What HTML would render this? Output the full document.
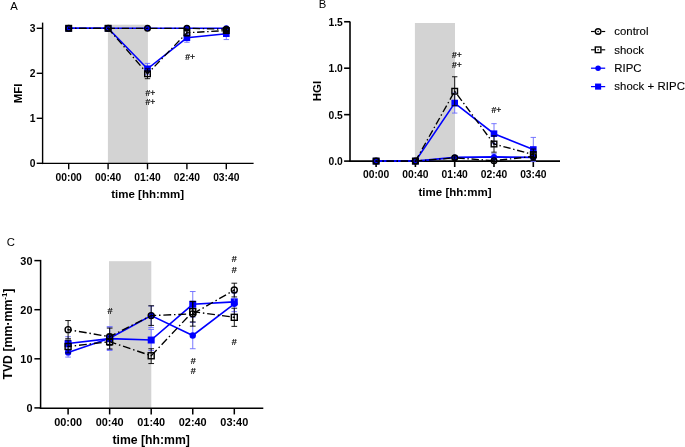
<!DOCTYPE html>
<html><head><meta charset="utf-8"><title>Figure</title>
<style>html,body{margin:0;padding:0;background:#fff}body{width:685px;height:447px;overflow:hidden}</style>
</head><body>
<svg width="685" height="447" viewBox="0 0 685 447" style="display:block;font-family:'Liberation Sans', Arial, sans-serif">
<rect width="685" height="447" fill="#fff"/>
<rect x="107.90" y="24.70" width="40.00" height="138.70" fill="#d3d3d3"/>
<line x1="42.60" y1="22.60" x2="42.60" y2="164.10" stroke="#000000" stroke-width="1.4" />
<line x1="41.90" y1="163.40" x2="253.60" y2="163.40" stroke="#000000" stroke-width="1.4" />
<line x1="36.70" y1="163.30" x2="42.60" y2="163.30" stroke="#000000" stroke-width="1.4" />
<text x="35.40" y="167.27" font-size="10.3" font-weight="bold" text-anchor="end" fill="#000000" >0</text>
<line x1="36.70" y1="118.30" x2="42.60" y2="118.30" stroke="#000000" stroke-width="1.4" />
<text x="35.40" y="122.27" font-size="10.3" font-weight="bold" text-anchor="end" fill="#000000" >1</text>
<line x1="36.70" y1="73.30" x2="42.60" y2="73.30" stroke="#000000" stroke-width="1.4" />
<text x="35.40" y="77.27" font-size="10.3" font-weight="bold" text-anchor="end" fill="#000000" >2</text>
<line x1="36.70" y1="28.30" x2="42.60" y2="28.30" stroke="#000000" stroke-width="1.4" />
<text x="35.40" y="32.27" font-size="10.3" font-weight="bold" text-anchor="end" fill="#000000" >3</text>
<line x1="68.70" y1="163.40" x2="68.70" y2="169.30" stroke="#000000" stroke-width="1.4" />
<text x="68.70" y="180.60" font-size="10.3" font-weight="bold" text-anchor="middle" fill="#000000" >00:00</text>
<line x1="108.10" y1="163.40" x2="108.10" y2="169.30" stroke="#000000" stroke-width="1.4" />
<text x="108.10" y="180.60" font-size="10.3" font-weight="bold" text-anchor="middle" fill="#000000" >00:40</text>
<line x1="147.50" y1="163.40" x2="147.50" y2="169.30" stroke="#000000" stroke-width="1.4" />
<text x="147.50" y="180.60" font-size="10.3" font-weight="bold" text-anchor="middle" fill="#000000" >01:40</text>
<line x1="186.90" y1="163.40" x2="186.90" y2="169.30" stroke="#000000" stroke-width="1.4" />
<text x="186.90" y="180.60" font-size="10.3" font-weight="bold" text-anchor="middle" fill="#000000" >02:40</text>
<line x1="226.30" y1="163.40" x2="226.30" y2="169.30" stroke="#000000" stroke-width="1.4" />
<text x="226.30" y="180.60" font-size="10.3" font-weight="bold" text-anchor="middle" fill="#000000" >03:40</text>
<line x1="147.50" y1="63.40" x2="147.50" y2="74.20" stroke="#6a6aff" stroke-width="0.9" />
<line x1="144.80" y1="63.40" x2="150.20" y2="63.40" stroke="#6a6aff" stroke-width="0.9" />
<line x1="144.80" y1="74.20" x2="150.20" y2="74.20" stroke="#6a6aff" stroke-width="0.9" />
<line x1="186.90" y1="33.25" x2="186.90" y2="42.25" stroke="#6a6aff" stroke-width="0.9" />
<line x1="184.20" y1="33.25" x2="189.60" y2="33.25" stroke="#6a6aff" stroke-width="0.9" />
<line x1="184.20" y1="42.25" x2="189.60" y2="42.25" stroke="#6a6aff" stroke-width="0.9" />
<line x1="226.30" y1="27.85" x2="226.30" y2="39.55" stroke="#6a6aff" stroke-width="0.9" />
<line x1="223.60" y1="27.85" x2="229.00" y2="27.85" stroke="#6a6aff" stroke-width="0.9" />
<line x1="223.60" y1="39.55" x2="229.00" y2="39.55" stroke="#6a6aff" stroke-width="0.9" />
<polyline points="68.70,28.30 108.10,28.30 147.50,68.80 186.90,37.75 226.30,33.70" fill="none" stroke="#0000ff" stroke-width="1.6" />
<rect x="65.40" y="25.00" width="6.60" height="6.60" fill="#0000ff"/>
<rect x="104.80" y="25.00" width="6.60" height="6.60" fill="#0000ff"/>
<rect x="144.20" y="65.50" width="6.60" height="6.60" fill="#0000ff"/>
<rect x="183.60" y="34.45" width="6.60" height="6.60" fill="#0000ff"/>
<rect x="223.00" y="30.40" width="6.60" height="6.60" fill="#0000ff"/>
<polyline points="68.70,28.30 108.10,28.30 147.50,28.30 186.90,28.30 226.30,28.30" fill="none" stroke="#0000ff" stroke-width="1.6" />
<circle cx="68.70" cy="28.30" r="3.00" fill="#0000ff"/>
<circle cx="108.10" cy="28.30" r="3.00" fill="#0000ff"/>
<circle cx="147.50" cy="28.30" r="3.00" fill="#0000ff"/>
<circle cx="186.90" cy="28.30" r="3.00" fill="#0000ff"/>
<circle cx="226.30" cy="28.30" r="3.00" fill="#0000ff"/>
<line x1="147.50" y1="68.80" x2="147.50" y2="78.70" stroke="#000000" stroke-width="0.9" />
<line x1="144.80" y1="68.80" x2="150.20" y2="68.80" stroke="#000000" stroke-width="0.9" />
<line x1="144.80" y1="78.70" x2="150.20" y2="78.70" stroke="#000000" stroke-width="0.9" />
<line x1="186.90" y1="29.65" x2="186.90" y2="35.95" stroke="#000000" stroke-width="0.9" />
<line x1="184.20" y1="29.65" x2="189.60" y2="29.65" stroke="#000000" stroke-width="0.9" />
<line x1="184.20" y1="35.95" x2="189.60" y2="35.95" stroke="#000000" stroke-width="0.9" />
<line x1="226.30" y1="28.75" x2="226.30" y2="32.35" stroke="#000000" stroke-width="0.9" />
<line x1="223.60" y1="28.75" x2="229.00" y2="28.75" stroke="#000000" stroke-width="0.9" />
<line x1="223.60" y1="32.35" x2="229.00" y2="32.35" stroke="#000000" stroke-width="0.9" />
<polyline points="68.70,28.30 108.10,28.30 147.50,73.75 186.90,32.80 226.30,30.55" fill="none" stroke="#000000" stroke-width="1.35" stroke-dasharray="7.40 2.70 1.40 2.70" stroke-dashoffset="3.80"/>
<rect x="65.90" y="25.50" width="5.60" height="5.60" fill="none" stroke="#000000" stroke-width="1.4"/>
<circle cx="68.70" cy="28.30" r="0.8" fill="#000000"/>
<rect x="105.30" y="25.50" width="5.60" height="5.60" fill="none" stroke="#000000" stroke-width="1.4"/>
<circle cx="108.10" cy="28.30" r="0.8" fill="#000000"/>
<rect x="144.70" y="70.95" width="5.60" height="5.60" fill="none" stroke="#000000" stroke-width="1.4"/>
<circle cx="147.50" cy="73.75" r="0.8" fill="#000000"/>
<rect x="184.10" y="30.00" width="5.60" height="5.60" fill="none" stroke="#000000" stroke-width="1.4"/>
<circle cx="186.90" cy="32.80" r="0.8" fill="#000000"/>
<rect x="223.50" y="27.75" width="5.60" height="5.60" fill="none" stroke="#000000" stroke-width="1.4"/>
<circle cx="226.30" cy="30.55" r="0.8" fill="#000000"/>
<line x1="226.30" y1="27.85" x2="226.30" y2="30.55" stroke="#000000" stroke-width="0.9" />
<line x1="223.60" y1="27.85" x2="229.00" y2="27.85" stroke="#000000" stroke-width="0.9" />
<line x1="223.60" y1="30.55" x2="229.00" y2="30.55" stroke="#000000" stroke-width="0.9" />
<polyline points="68.70,28.30 108.10,28.30 147.50,28.30 186.90,28.30 226.30,29.20" fill="none" stroke="#000000" stroke-width="1.35" stroke-dasharray="7.40 2.70 1.40 2.70" stroke-dashoffset="3.80"/>
<circle cx="68.70" cy="28.30" r="2.80" fill="none" stroke="#000000" stroke-width="1.4"/>
<circle cx="68.70" cy="28.30" r="0.8" fill="#000000"/>
<circle cx="108.10" cy="28.30" r="2.80" fill="none" stroke="#000000" stroke-width="1.4"/>
<circle cx="108.10" cy="28.30" r="0.8" fill="#000000"/>
<circle cx="147.50" cy="28.30" r="2.80" fill="none" stroke="#000000" stroke-width="1.4"/>
<circle cx="147.50" cy="28.30" r="0.8" fill="#000000"/>
<circle cx="186.90" cy="28.30" r="2.80" fill="none" stroke="#000000" stroke-width="1.4"/>
<circle cx="186.90" cy="28.30" r="0.8" fill="#000000"/>
<circle cx="226.30" cy="29.20" r="2.80" fill="none" stroke="#000000" stroke-width="1.4"/>
<circle cx="226.30" cy="29.20" r="0.8" fill="#000000"/>
<text x="10.30" y="10.00" font-size="11.3" font-weight="normal" text-anchor="start" fill="#000000" >A</text>
<text x="22.30" y="93.40" font-size="11.5" font-weight="bold" text-anchor="middle" fill="#000000" transform="rotate(-90 22.3 93.4)">MFI</text>
<text x="147.70" y="197.60" font-size="11.5" font-weight="bold" text-anchor="middle" fill="#000000" textLength="73" lengthAdjust="spacingAndGlyphs">time [hh:mm]</text>
<text x="145.40" y="95.50" font-size="8.6" font-weight="normal" text-anchor="start" fill="#000000" stroke="#000" stroke-width="0.2">#+</text>
<text x="145.40" y="105.10" font-size="8.6" font-weight="normal" text-anchor="start" fill="#000000" stroke="#000" stroke-width="0.2">#+</text>
<text x="185.30" y="59.60" font-size="8.6" font-weight="normal" text-anchor="start" fill="#000000" stroke="#000" stroke-width="0.2">#+</text>
<rect x="414.90" y="23.00" width="40.10" height="138.10" fill="#d3d3d3"/>
<line x1="350.00" y1="21.40" x2="350.00" y2="161.90" stroke="#000000" stroke-width="1.6" />
<line x1="349.20" y1="161.10" x2="560.00" y2="161.10" stroke="#000000" stroke-width="1.6" />
<line x1="344.10" y1="161.10" x2="350.00" y2="161.10" stroke="#000000" stroke-width="1.6" />
<text x="342.80" y="165.07" font-size="10.3" font-weight="bold" text-anchor="end" fill="#000000" >0.0</text>
<line x1="344.10" y1="114.65" x2="350.00" y2="114.65" stroke="#000000" stroke-width="1.6" />
<text x="342.80" y="118.62" font-size="10.3" font-weight="bold" text-anchor="end" fill="#000000" >0.5</text>
<line x1="344.10" y1="68.20" x2="350.00" y2="68.20" stroke="#000000" stroke-width="1.6" />
<text x="342.80" y="72.17" font-size="10.3" font-weight="bold" text-anchor="end" fill="#000000" >1.0</text>
<line x1="344.10" y1="21.75" x2="350.00" y2="21.75" stroke="#000000" stroke-width="1.6" />
<text x="342.80" y="25.72" font-size="10.3" font-weight="bold" text-anchor="end" fill="#000000" >1.5</text>
<line x1="376.10" y1="161.10" x2="376.10" y2="167.00" stroke="#000000" stroke-width="1.6" />
<text x="376.10" y="178.30" font-size="10.3" font-weight="bold" text-anchor="middle" fill="#000000" >00:00</text>
<line x1="415.40" y1="161.10" x2="415.40" y2="167.00" stroke="#000000" stroke-width="1.6" />
<text x="415.40" y="178.30" font-size="10.3" font-weight="bold" text-anchor="middle" fill="#000000" >00:40</text>
<line x1="454.70" y1="161.10" x2="454.70" y2="167.00" stroke="#000000" stroke-width="1.6" />
<text x="454.70" y="178.30" font-size="10.3" font-weight="bold" text-anchor="middle" fill="#000000" >01:40</text>
<line x1="494.00" y1="161.10" x2="494.00" y2="167.00" stroke="#000000" stroke-width="1.6" />
<text x="494.00" y="178.30" font-size="10.3" font-weight="bold" text-anchor="middle" fill="#000000" >02:40</text>
<line x1="533.30" y1="161.10" x2="533.30" y2="167.00" stroke="#000000" stroke-width="1.6" />
<text x="533.30" y="178.30" font-size="10.3" font-weight="bold" text-anchor="middle" fill="#000000" >03:40</text>
<line x1="454.70" y1="93.00" x2="454.70" y2="113.07" stroke="#6a6aff" stroke-width="0.9" />
<line x1="452.00" y1="93.00" x2="457.40" y2="93.00" stroke="#6a6aff" stroke-width="0.9" />
<line x1="452.00" y1="113.07" x2="457.40" y2="113.07" stroke="#6a6aff" stroke-width="0.9" />
<line x1="494.00" y1="123.66" x2="494.00" y2="143.73" stroke="#6a6aff" stroke-width="0.9" />
<line x1="491.30" y1="123.66" x2="496.70" y2="123.66" stroke="#6a6aff" stroke-width="0.9" />
<line x1="491.30" y1="143.73" x2="496.70" y2="143.73" stroke="#6a6aff" stroke-width="0.9" />
<line x1="533.30" y1="137.41" x2="533.30" y2="161.56" stroke="#6a6aff" stroke-width="0.9" />
<line x1="530.60" y1="137.41" x2="536.00" y2="137.41" stroke="#6a6aff" stroke-width="0.9" />
<line x1="530.60" y1="161.56" x2="536.00" y2="161.56" stroke="#6a6aff" stroke-width="0.9" />
<polyline points="376.10,161.10 415.40,161.10 454.70,103.04 494.00,133.69 533.30,149.49" fill="none" stroke="#0000ff" stroke-width="1.6" />
<rect x="372.80" y="157.80" width="6.60" height="6.60" fill="#0000ff"/>
<rect x="412.10" y="157.80" width="6.60" height="6.60" fill="#0000ff"/>
<rect x="451.40" y="99.74" width="6.60" height="6.60" fill="#0000ff"/>
<rect x="490.70" y="130.39" width="6.60" height="6.60" fill="#0000ff"/>
<rect x="530.00" y="146.19" width="6.60" height="6.60" fill="#0000ff"/>
<line x1="454.70" y1="155.53" x2="454.70" y2="159.24" stroke="#6a6aff" stroke-width="0.9" />
<line x1="452.00" y1="155.53" x2="457.40" y2="155.53" stroke="#6a6aff" stroke-width="0.9" />
<line x1="452.00" y1="159.24" x2="457.40" y2="159.24" stroke="#6a6aff" stroke-width="0.9" />
<line x1="494.00" y1="153.67" x2="494.00" y2="160.17" stroke="#6a6aff" stroke-width="0.9" />
<line x1="491.30" y1="153.67" x2="496.70" y2="153.67" stroke="#6a6aff" stroke-width="0.9" />
<line x1="491.30" y1="160.17" x2="496.70" y2="160.17" stroke="#6a6aff" stroke-width="0.9" />
<line x1="533.30" y1="154.60" x2="533.30" y2="160.17" stroke="#6a6aff" stroke-width="0.9" />
<line x1="530.60" y1="154.60" x2="536.00" y2="154.60" stroke="#6a6aff" stroke-width="0.9" />
<line x1="530.60" y1="160.17" x2="536.00" y2="160.17" stroke="#6a6aff" stroke-width="0.9" />
<polyline points="376.10,161.10 415.40,161.10 454.70,157.38 494.00,156.92 533.30,157.38" fill="none" stroke="#0000ff" stroke-width="1.6" />
<circle cx="376.10" cy="161.10" r="3.00" fill="#0000ff"/>
<circle cx="415.40" cy="161.10" r="3.00" fill="#0000ff"/>
<circle cx="454.70" cy="157.38" r="3.00" fill="#0000ff"/>
<circle cx="494.00" cy="156.92" r="3.00" fill="#0000ff"/>
<circle cx="533.30" cy="157.38" r="3.00" fill="#0000ff"/>
<line x1="454.70" y1="76.75" x2="454.70" y2="105.73" stroke="#000000" stroke-width="0.9" />
<line x1="452.00" y1="76.75" x2="457.40" y2="76.75" stroke="#000000" stroke-width="0.9" />
<line x1="452.00" y1="105.73" x2="457.40" y2="105.73" stroke="#000000" stroke-width="0.9" />
<line x1="494.00" y1="135.83" x2="494.00" y2="152.18" stroke="#000000" stroke-width="0.9" />
<line x1="491.30" y1="135.83" x2="496.70" y2="135.83" stroke="#000000" stroke-width="0.9" />
<line x1="491.30" y1="152.18" x2="496.70" y2="152.18" stroke="#000000" stroke-width="0.9" />
<line x1="533.30" y1="149.02" x2="533.30" y2="160.17" stroke="#000000" stroke-width="0.9" />
<line x1="530.60" y1="149.02" x2="536.00" y2="149.02" stroke="#000000" stroke-width="0.9" />
<line x1="530.60" y1="160.17" x2="536.00" y2="160.17" stroke="#000000" stroke-width="0.9" />
<polyline points="376.10,161.10 415.40,161.10 454.70,91.24 494.00,144.01 533.30,154.60" fill="none" stroke="#000000" stroke-width="1.35" stroke-dasharray="7.40 2.70 1.40 2.70" stroke-dashoffset="3.80"/>
<rect x="373.30" y="158.30" width="5.60" height="5.60" fill="none" stroke="#000000" stroke-width="1.4"/>
<circle cx="376.10" cy="161.10" r="0.8" fill="#000000"/>
<rect x="412.60" y="158.30" width="5.60" height="5.60" fill="none" stroke="#000000" stroke-width="1.4"/>
<circle cx="415.40" cy="161.10" r="0.8" fill="#000000"/>
<rect x="451.90" y="88.44" width="5.60" height="5.60" fill="none" stroke="#000000" stroke-width="1.4"/>
<circle cx="454.70" cy="91.24" r="0.8" fill="#000000"/>
<rect x="491.20" y="141.21" width="5.60" height="5.60" fill="none" stroke="#000000" stroke-width="1.4"/>
<circle cx="494.00" cy="144.01" r="0.8" fill="#000000"/>
<rect x="530.50" y="151.80" width="5.60" height="5.60" fill="none" stroke="#000000" stroke-width="1.4"/>
<circle cx="533.30" cy="154.60" r="0.8" fill="#000000"/>
<line x1="454.70" y1="155.99" x2="454.70" y2="159.71" stroke="#000000" stroke-width="0.9" />
<line x1="452.00" y1="155.99" x2="457.40" y2="155.99" stroke="#000000" stroke-width="0.9" />
<line x1="452.00" y1="159.71" x2="457.40" y2="159.71" stroke="#000000" stroke-width="0.9" />
<line x1="494.00" y1="159.71" x2="494.00" y2="161.56" stroke="#000000" stroke-width="0.9" />
<line x1="491.30" y1="159.71" x2="496.70" y2="159.71" stroke="#000000" stroke-width="0.9" />
<line x1="491.30" y1="161.56" x2="496.70" y2="161.56" stroke="#000000" stroke-width="0.9" />
<line x1="533.30" y1="152.74" x2="533.30" y2="160.17" stroke="#000000" stroke-width="0.9" />
<line x1="530.60" y1="152.74" x2="536.00" y2="152.74" stroke="#000000" stroke-width="0.9" />
<line x1="530.60" y1="160.17" x2="536.00" y2="160.17" stroke="#000000" stroke-width="0.9" />
<polyline points="376.10,161.10 415.40,161.10 454.70,157.85 494.00,160.64 533.30,156.45" fill="none" stroke="#000000" stroke-width="1.35" stroke-dasharray="7.40 2.70 1.40 2.70" stroke-dashoffset="3.80"/>
<circle cx="376.10" cy="161.10" r="2.80" fill="none" stroke="#000000" stroke-width="1.4"/>
<circle cx="376.10" cy="161.10" r="0.8" fill="#000000"/>
<circle cx="415.40" cy="161.10" r="2.80" fill="none" stroke="#000000" stroke-width="1.4"/>
<circle cx="415.40" cy="161.10" r="0.8" fill="#000000"/>
<circle cx="454.70" cy="157.85" r="2.80" fill="none" stroke="#000000" stroke-width="1.4"/>
<circle cx="454.70" cy="157.85" r="0.8" fill="#000000"/>
<circle cx="494.00" cy="160.64" r="2.80" fill="none" stroke="#000000" stroke-width="1.4"/>
<circle cx="494.00" cy="160.64" r="0.8" fill="#000000"/>
<circle cx="533.30" cy="156.45" r="2.80" fill="none" stroke="#000000" stroke-width="1.4"/>
<circle cx="533.30" cy="156.45" r="0.8" fill="#000000"/>
<text x="318.70" y="8.10" font-size="11.3" font-weight="normal" text-anchor="start" fill="#000000" >B</text>
<text x="320.80" y="91.00" font-size="11.5" font-weight="bold" text-anchor="middle" fill="#000000" transform="rotate(-90 320.8 91.0)">HGI</text>
<text x="455.00" y="195.70" font-size="11.5" font-weight="bold" text-anchor="middle" fill="#000000" textLength="73" lengthAdjust="spacingAndGlyphs">time [hh:mm]</text>
<text x="452.10" y="58.30" font-size="8.6" font-weight="normal" text-anchor="start" fill="#000000" stroke="#000" stroke-width="0.2">#+</text>
<text x="452.10" y="68.00" font-size="8.6" font-weight="normal" text-anchor="start" fill="#000000" stroke="#000" stroke-width="0.2">#+</text>
<text x="491.60" y="113.00" font-size="8.6" font-weight="normal" text-anchor="start" fill="#000000" stroke="#000" stroke-width="0.2">#+</text>
<rect x="109.00" y="261.20" width="42.30" height="147.00" fill="#d3d3d3"/>
<line x1="40.60" y1="259.90" x2="40.60" y2="408.95" stroke="#000000" stroke-width="1.5" />
<line x1="39.85" y1="408.20" x2="263.30" y2="408.20" stroke="#000000" stroke-width="1.5" />
<line x1="34.38" y1="407.90" x2="40.60" y2="407.90" stroke="#000000" stroke-width="1.5" />
<text x="32.48" y="412.10" font-size="10.9" font-weight="bold" text-anchor="end" fill="#000000" >0</text>
<line x1="34.38" y1="358.80" x2="40.60" y2="358.80" stroke="#000000" stroke-width="1.5" />
<text x="32.48" y="363.00" font-size="10.9" font-weight="bold" text-anchor="end" fill="#000000" >10</text>
<line x1="34.38" y1="309.70" x2="40.60" y2="309.70" stroke="#000000" stroke-width="1.5" />
<text x="32.48" y="313.90" font-size="10.9" font-weight="bold" text-anchor="end" fill="#000000" >20</text>
<line x1="34.38" y1="260.60" x2="40.60" y2="260.60" stroke="#000000" stroke-width="1.5" />
<text x="32.48" y="264.80" font-size="10.9" font-weight="bold" text-anchor="end" fill="#000000" >30</text>
<line x1="68.10" y1="408.20" x2="68.10" y2="414.42" stroke="#000000" stroke-width="1.5" />
<text x="68.10" y="426.35" font-size="10.9" font-weight="bold" text-anchor="middle" fill="#000000" >00:00</text>
<line x1="109.65" y1="408.20" x2="109.65" y2="414.42" stroke="#000000" stroke-width="1.5" />
<text x="109.65" y="426.35" font-size="10.9" font-weight="bold" text-anchor="middle" fill="#000000" >00:40</text>
<line x1="151.20" y1="408.20" x2="151.20" y2="414.42" stroke="#000000" stroke-width="1.5" />
<text x="151.20" y="426.35" font-size="10.9" font-weight="bold" text-anchor="middle" fill="#000000" >01:40</text>
<line x1="192.75" y1="408.20" x2="192.75" y2="414.42" stroke="#000000" stroke-width="1.5" />
<text x="192.75" y="426.35" font-size="10.9" font-weight="bold" text-anchor="middle" fill="#000000" >02:40</text>
<line x1="234.30" y1="408.20" x2="234.30" y2="414.42" stroke="#000000" stroke-width="1.5" />
<text x="234.30" y="426.35" font-size="10.9" font-weight="bold" text-anchor="middle" fill="#000000" >03:40</text>
<line x1="68.10" y1="336.70" x2="68.10" y2="350.45" stroke="#6a6aff" stroke-width="0.9" />
<line x1="65.25" y1="336.70" x2="70.95" y2="336.70" stroke="#6a6aff" stroke-width="0.9" />
<line x1="65.25" y1="350.45" x2="70.95" y2="350.45" stroke="#6a6aff" stroke-width="0.9" />
<line x1="109.65" y1="326.88" x2="109.65" y2="350.45" stroke="#6a6aff" stroke-width="0.9" />
<line x1="106.80" y1="326.88" x2="112.50" y2="326.88" stroke="#6a6aff" stroke-width="0.9" />
<line x1="106.80" y1="350.45" x2="112.50" y2="350.45" stroke="#6a6aff" stroke-width="0.9" />
<line x1="151.20" y1="329.44" x2="151.20" y2="350.65" stroke="#6a6aff" stroke-width="0.9" />
<line x1="148.35" y1="329.44" x2="154.05" y2="329.44" stroke="#6a6aff" stroke-width="0.9" />
<line x1="148.35" y1="350.65" x2="154.05" y2="350.65" stroke="#6a6aff" stroke-width="0.9" />
<line x1="192.75" y1="291.53" x2="192.75" y2="317.06" stroke="#6a6aff" stroke-width="0.9" />
<line x1="189.90" y1="291.53" x2="195.60" y2="291.53" stroke="#6a6aff" stroke-width="0.9" />
<line x1="189.90" y1="317.06" x2="195.60" y2="317.06" stroke="#6a6aff" stroke-width="0.9" />
<line x1="234.30" y1="292.02" x2="234.30" y2="311.66" stroke="#6a6aff" stroke-width="0.9" />
<line x1="231.45" y1="292.02" x2="237.15" y2="292.02" stroke="#6a6aff" stroke-width="0.9" />
<line x1="231.45" y1="311.66" x2="237.15" y2="311.66" stroke="#6a6aff" stroke-width="0.9" />
<polyline points="68.10,343.58 109.65,338.67 151.20,340.04 192.75,304.30 234.30,301.84" fill="none" stroke="#0000ff" stroke-width="1.6" />
<rect x="64.62" y="340.10" width="6.96" height="6.96" fill="#0000ff"/>
<rect x="106.17" y="335.19" width="6.96" height="6.96" fill="#0000ff"/>
<rect x="147.72" y="336.56" width="6.96" height="6.96" fill="#0000ff"/>
<rect x="189.27" y="300.82" width="6.96" height="6.96" fill="#0000ff"/>
<rect x="230.82" y="298.36" width="6.96" height="6.96" fill="#0000ff"/>
<line x1="68.10" y1="347.75" x2="68.10" y2="357.08" stroke="#6a6aff" stroke-width="0.9" />
<line x1="65.25" y1="347.75" x2="70.95" y2="347.75" stroke="#6a6aff" stroke-width="0.9" />
<line x1="65.25" y1="357.08" x2="70.95" y2="357.08" stroke="#6a6aff" stroke-width="0.9" />
<line x1="109.65" y1="326.88" x2="109.65" y2="349.47" stroke="#6a6aff" stroke-width="0.9" />
<line x1="106.80" y1="326.88" x2="112.50" y2="326.88" stroke="#6a6aff" stroke-width="0.9" />
<line x1="106.80" y1="349.47" x2="112.50" y2="349.47" stroke="#6a6aff" stroke-width="0.9" />
<line x1="151.20" y1="306.02" x2="151.20" y2="327.62" stroke="#6a6aff" stroke-width="0.9" />
<line x1="148.35" y1="306.02" x2="154.05" y2="306.02" stroke="#6a6aff" stroke-width="0.9" />
<line x1="148.35" y1="327.62" x2="154.05" y2="327.62" stroke="#6a6aff" stroke-width="0.9" />
<line x1="192.75" y1="322.22" x2="192.75" y2="348.73" stroke="#6a6aff" stroke-width="0.9" />
<line x1="189.90" y1="322.22" x2="195.60" y2="322.22" stroke="#6a6aff" stroke-width="0.9" />
<line x1="189.90" y1="348.73" x2="195.60" y2="348.73" stroke="#6a6aff" stroke-width="0.9" />
<line x1="234.30" y1="293.01" x2="234.30" y2="314.61" stroke="#6a6aff" stroke-width="0.9" />
<line x1="231.45" y1="293.01" x2="237.15" y2="293.01" stroke="#6a6aff" stroke-width="0.9" />
<line x1="231.45" y1="314.61" x2="237.15" y2="314.61" stroke="#6a6aff" stroke-width="0.9" />
<polyline points="68.10,352.42 109.65,338.18 151.20,315.59 192.75,335.48 234.30,303.81" fill="none" stroke="#0000ff" stroke-width="1.6" />
<circle cx="68.10" cy="352.42" r="3.17" fill="#0000ff"/>
<circle cx="109.65" cy="338.18" r="3.17" fill="#0000ff"/>
<circle cx="151.20" cy="315.59" r="3.17" fill="#0000ff"/>
<circle cx="192.75" cy="335.48" r="3.17" fill="#0000ff"/>
<circle cx="234.30" cy="303.81" r="3.17" fill="#0000ff"/>
<line x1="68.10" y1="340.14" x2="68.10" y2="352.91" stroke="#000000" stroke-width="0.9" />
<line x1="65.25" y1="340.14" x2="70.95" y2="340.14" stroke="#000000" stroke-width="0.9" />
<line x1="65.25" y1="352.91" x2="70.95" y2="352.91" stroke="#000000" stroke-width="0.9" />
<line x1="109.65" y1="334.25" x2="109.65" y2="348.98" stroke="#000000" stroke-width="0.9" />
<line x1="106.80" y1="334.25" x2="112.50" y2="334.25" stroke="#000000" stroke-width="0.9" />
<line x1="106.80" y1="348.98" x2="112.50" y2="348.98" stroke="#000000" stroke-width="0.9" />
<line x1="151.20" y1="348.73" x2="151.20" y2="363.56" stroke="#000000" stroke-width="0.9" />
<line x1="148.35" y1="348.73" x2="154.05" y2="348.73" stroke="#000000" stroke-width="0.9" />
<line x1="148.35" y1="363.56" x2="154.05" y2="363.56" stroke="#000000" stroke-width="0.9" />
<line x1="192.75" y1="301.35" x2="192.75" y2="321.97" stroke="#000000" stroke-width="0.9" />
<line x1="189.90" y1="301.35" x2="195.60" y2="301.35" stroke="#000000" stroke-width="0.9" />
<line x1="189.90" y1="321.97" x2="195.60" y2="321.97" stroke="#000000" stroke-width="0.9" />
<line x1="234.30" y1="308.23" x2="234.30" y2="326.39" stroke="#000000" stroke-width="0.9" />
<line x1="231.45" y1="308.23" x2="237.15" y2="308.23" stroke="#000000" stroke-width="0.9" />
<line x1="231.45" y1="326.39" x2="237.15" y2="326.39" stroke="#000000" stroke-width="0.9" />
<polyline points="68.10,346.52 109.65,341.62 151.20,355.76 192.75,311.66 234.30,317.31" fill="none" stroke="#000000" stroke-width="1.35" stroke-dasharray="7.81 2.85 1.48 2.85" stroke-dashoffset="4.01"/>
<rect x="65.11" y="343.53" width="5.98" height="5.98" fill="none" stroke="#000000" stroke-width="1.4"/>
<circle cx="68.10" cy="346.52" r="0.8" fill="#000000"/>
<rect x="106.66" y="338.62" width="5.98" height="5.98" fill="none" stroke="#000000" stroke-width="1.4"/>
<circle cx="109.65" cy="341.62" r="0.8" fill="#000000"/>
<rect x="148.21" y="352.77" width="5.98" height="5.98" fill="none" stroke="#000000" stroke-width="1.4"/>
<circle cx="151.20" cy="355.76" r="0.8" fill="#000000"/>
<rect x="189.76" y="308.67" width="5.98" height="5.98" fill="none" stroke="#000000" stroke-width="1.4"/>
<circle cx="192.75" cy="311.66" r="0.8" fill="#000000"/>
<rect x="231.31" y="314.32" width="5.98" height="5.98" fill="none" stroke="#000000" stroke-width="1.4"/>
<circle cx="234.30" cy="317.31" r="0.8" fill="#000000"/>
<line x1="68.10" y1="320.55" x2="68.10" y2="338.72" stroke="#000000" stroke-width="0.9" />
<line x1="65.25" y1="320.55" x2="70.95" y2="320.55" stroke="#000000" stroke-width="0.9" />
<line x1="65.25" y1="338.72" x2="70.95" y2="338.72" stroke="#000000" stroke-width="0.9" />
<line x1="109.65" y1="328.11" x2="109.65" y2="345.30" stroke="#000000" stroke-width="0.9" />
<line x1="106.80" y1="328.11" x2="112.50" y2="328.11" stroke="#000000" stroke-width="0.9" />
<line x1="106.80" y1="345.30" x2="112.50" y2="345.30" stroke="#000000" stroke-width="0.9" />
<line x1="151.20" y1="305.77" x2="151.20" y2="325.41" stroke="#000000" stroke-width="0.9" />
<line x1="148.35" y1="305.77" x2="154.05" y2="305.77" stroke="#000000" stroke-width="0.9" />
<line x1="148.35" y1="325.41" x2="154.05" y2="325.41" stroke="#000000" stroke-width="0.9" />
<line x1="192.75" y1="301.60" x2="192.75" y2="326.15" stroke="#000000" stroke-width="0.9" />
<line x1="189.90" y1="301.60" x2="195.60" y2="301.60" stroke="#000000" stroke-width="0.9" />
<line x1="189.90" y1="326.15" x2="195.60" y2="326.15" stroke="#000000" stroke-width="0.9" />
<line x1="234.30" y1="283.19" x2="234.30" y2="296.93" stroke="#000000" stroke-width="0.9" />
<line x1="231.45" y1="283.19" x2="237.15" y2="283.19" stroke="#000000" stroke-width="0.9" />
<line x1="231.45" y1="296.93" x2="237.15" y2="296.93" stroke="#000000" stroke-width="0.9" />
<polyline points="68.10,329.63 109.65,336.70 151.20,315.59 192.75,313.87 234.30,290.06" fill="none" stroke="#000000" stroke-width="1.35" stroke-dasharray="7.81 2.85 1.48 2.85" stroke-dashoffset="4.01"/>
<circle cx="68.10" cy="329.63" r="2.99" fill="none" stroke="#000000" stroke-width="1.4"/>
<circle cx="68.10" cy="329.63" r="0.8" fill="#000000"/>
<circle cx="109.65" cy="336.70" r="2.99" fill="none" stroke="#000000" stroke-width="1.4"/>
<circle cx="109.65" cy="336.70" r="0.8" fill="#000000"/>
<circle cx="151.20" cy="315.59" r="2.99" fill="none" stroke="#000000" stroke-width="1.4"/>
<circle cx="151.20" cy="315.59" r="0.8" fill="#000000"/>
<circle cx="192.75" cy="313.87" r="2.99" fill="none" stroke="#000000" stroke-width="1.4"/>
<circle cx="192.75" cy="313.87" r="0.8" fill="#000000"/>
<circle cx="234.30" cy="290.06" r="2.99" fill="none" stroke="#000000" stroke-width="1.4"/>
<circle cx="234.30" cy="290.06" r="0.8" fill="#000000"/>
<text x="6.80" y="246.10" font-size="11.3" font-weight="normal" text-anchor="start" fill="#000000" >C</text>
<text x="12.00" y="334.10" font-size="12.3" font-weight="bold" text-anchor="middle" fill="#000000" transform="rotate(-90 12.0 334.1)" textLength="91" lengthAdjust="spacingAndGlyphs">TVD [mm·mm<tspan font-size="7.8" dy="-5">-1</tspan><tspan dy="5">]</tspan></text>
<text x="151.20" y="444.30" font-size="12.2" font-weight="bold" text-anchor="middle" fill="#000000" textLength="77.5" lengthAdjust="spacingAndGlyphs">time [hh:mm]</text>
<text x="110.00" y="314.00" font-size="9" font-weight="normal" text-anchor="middle" fill="#000000" stroke="#000" stroke-width="0.2">#</text>
<text x="193.20" y="364.30" font-size="9" font-weight="normal" text-anchor="middle" fill="#000000" stroke="#000" stroke-width="0.2">#</text>
<text x="193.20" y="374.30" font-size="9" font-weight="normal" text-anchor="middle" fill="#000000" stroke="#000" stroke-width="0.2">#</text>
<text x="234.20" y="261.90" font-size="9" font-weight="normal" text-anchor="middle" fill="#000000" stroke="#000" stroke-width="0.2">#</text>
<text x="234.20" y="272.90" font-size="9" font-weight="normal" text-anchor="middle" fill="#000000" stroke="#000" stroke-width="0.2">#</text>
<text x="234.20" y="344.90" font-size="9" font-weight="normal" text-anchor="middle" fill="#000000" stroke="#000" stroke-width="0.2">#</text>
<line x1="591.00" y1="31.50" x2="594.80" y2="31.50" stroke="#000000" stroke-width="1.15" />
<line x1="601.40" y1="31.50" x2="605.20" y2="31.50" stroke="#000000" stroke-width="1.15" />
<circle cx="598.10" cy="31.50" r="2.80" fill="none" stroke="#000000" stroke-width="1.4"/>
<circle cx="598.10" cy="31.50" r="0.8" fill="#000000"/>
<text x="614.30" y="35.30" font-size="11.4" font-weight="normal" text-anchor="start" fill="#000000" stroke="#000" stroke-width="0.12">control</text>
<line x1="591.00" y1="49.80" x2="594.80" y2="49.80" stroke="#000000" stroke-width="1.15" />
<line x1="601.40" y1="49.80" x2="605.20" y2="49.80" stroke="#000000" stroke-width="1.15" />
<rect x="595.30" y="47.00" width="5.60" height="5.60" fill="none" stroke="#000000" stroke-width="1.4"/>
<circle cx="598.10" cy="49.80" r="0.8" fill="#000000"/>
<text x="614.30" y="53.60" font-size="11.4" font-weight="normal" text-anchor="start" fill="#000000" stroke="#000" stroke-width="0.12">shock</text>
<line x1="591.00" y1="68.20" x2="605.20" y2="68.20" stroke="#0000ff" stroke-width="1.25" />
<circle cx="598.10" cy="68.20" r="2.78" fill="#0000ff"/>
<text x="614.30" y="72.00" font-size="11.4" font-weight="normal" text-anchor="start" fill="#000000" stroke="#000" stroke-width="0.12">RIPC</text>
<line x1="591.00" y1="86.60" x2="605.20" y2="86.60" stroke="#0000ff" stroke-width="1.25" />
<rect x="595.05" y="83.55" width="6.10" height="6.10" fill="#0000ff"/>
<text x="614.30" y="90.40" font-size="11.4" font-weight="normal" text-anchor="start" fill="#000000" stroke="#000" stroke-width="0.12" textLength="70.6" lengthAdjust="spacing">shock + RIPC</text>
</svg>
</body></html>
